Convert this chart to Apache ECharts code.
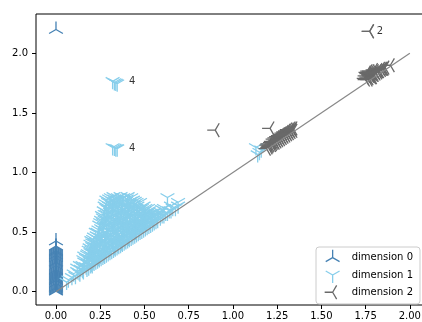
<!DOCTYPE html>
<html>
<head>
<meta charset="utf-8">
<script src="https://cdn.jsdelivr.net/npm/echarts@6/dist/echarts.min.js"></script>
<style>html,body{margin:0;padding:0;background:#fff}#c{width:422px;height:322px}</style>
</head>
<body>
<div id="c"></div>
<script>
// ---- data ----
const seriesNames = ['dimension 0', 'dimension 1', 'dimension 2'];
const xTicks = [0, 0.25, 0.5, 0.75, 1, 1.25, 1.5, 1.75, 2];
const yTicks = [0, 0.5, 1, 1.5, 2];
const diagonal = [[0, 0], [2, 2]];

const dim0Points = [
  [0,0.004],[0,0.012],[0,0.02],[0,0.027],[0,0.035],[0,0.041],[0,0.05],[0,0.058],[0,0.066],[0,0.072],
  [0,0.081],[0,0.09],[0,0.097],[0,0.105],[0,0.113],[0,0.12],[0,0.128],[0,0.136],[0,0.143],[0,0.151],
  [0,0.16],[0,0.168],[0,0.175],[0,0.183],[0,0.19],[0,0.198],[0,0.207],[0,0.215],[0,0.222],[0,0.23],
  [0,0.238],[0,0.246],[0,0.253],[0,0.261],[0,0.27],[0,0.278],[0,0.285],[0,0.293],[0,0.301],[0,0.309],
  [0,0.318],[0,0.326],[0,0.334],[0,0.342],[0,0.35],[0,0.358],[0,0.366],[0,0.375],[0,0.382],[0,0.425],
  [0,2.2]
];

const dim1Points = [
  [0.06,0.08],[0.07,0.1],[0.09,0.12],[0.1,0.15],[0.11,0.13],[0.12,0.17],[0.12,0.2],[0.13,0.16],
  [0.14,0.19],[0.15,0.22],[0.15,0.18],[0.16,0.25],[0.16,0.3],[0.17,0.21],[0.17,0.28],[0.18,0.24],
  [0.18,0.32],[0.19,0.26],[0.19,0.37],[0.2,0.23],[0.2,0.3],[0.2,0.35],[0.2,0.43],
  [0.21,0.25],[0.21,0.33],[0.21,0.44],[0.22,0.27],[0.22,0.38],[0.23,0.3],[0.23,0.47],[0.24,0.28],
  [0.24,0.35],[0.24,0.52],[0.25,0.3],[0.25,0.42],[0.25,0.58],[0.26,0.33],[0.26,0.48],[0.26,0.64],
  [0.27,0.31],[0.27,0.4],[0.27,0.55],[0.27,0.68],[0.28,0.34],[0.28,0.46],[0.28,0.61],[0.28,0.74],
  [0.29,0.37],[0.29,0.52],[0.29,0.66],[0.3,0.35],[0.3,0.43],[0.3,0.58],[0.3,0.72],[0.3,0.78],
  [0.31,0.36],[0.31,0.5],[0.31,0.63],[0.31,0.79],[0.32,0.4],[0.32,0.55],[0.32,0.7],[0.32,0.76],
  [0.33,0.37],[0.33,0.46],[0.33,0.6],[0.33,0.78],[0.34,0.42],[0.34,0.52],[0.34,0.67],[0.34,0.74],
  [0.35,0.39],[0.35,0.48],[0.35,0.57],[0.35,0.71],[0.35,0.79],[0.36,0.44],[0.36,0.62],[0.36,0.77],
  [0.37,0.41],[0.37,0.5],[0.37,0.68],[0.37,0.75],[0.38,0.45],[0.38,0.56],[0.38,0.65],[0.38,0.79],
  [0.39,0.43],[0.39,0.6],[0.39,0.72],[0.4,0.47],[0.4,0.53],[0.4,0.66],[0.4,0.78],[0.41,0.45],
  [0.41,0.58],[0.41,0.7],[0.42,0.5],[0.42,0.63],[0.42,0.76],[0.43,0.48],[0.43,0.55],[0.43,0.67],
  [0.44,0.52],[0.44,0.6],[0.44,0.73],[0.45,0.5],[0.45,0.57],[0.45,0.66],[0.46,0.54],[0.46,0.62],
  [0.46,0.72],[0.47,0.52],[0.47,0.59],[0.48,0.56],[0.48,0.66],[0.49,0.55],[0.49,0.61],[0.5,0.58],
  [0.5,0.68],[0.51,0.57],[0.51,0.63],[0.52,0.6],[0.52,0.7],[0.53,0.58],[0.54,0.62],[0.55,0.6],
  [0.56,0.64],[0.57,0.62],[0.58,0.66],[0.6,0.64],[0.6,0.69],[0.62,0.66],[0.63,0.79],[0.64,0.68],
  [0.66,0.7],[0.69,0.75],[0.69,0.72],
  [0.135,0.15],[0.135,0.22],[0.155,0.17],[0.155,0.2],[0.155,0.27],[0.175,0.19],[0.175,0.24],[0.175,0.31],
  [0.185,0.2],[0.185,0.28],[0.185,0.35],[0.195,0.22],[0.195,0.33],[0.195,0.4],
  [0.205,0.22],[0.205,0.27],[0.205,0.32],[0.205,0.38],[0.205,0.41],
  [0.215,0.24],[0.215,0.29],[0.215,0.36],[0.215,0.41],[0.215,0.46],
  [0.225,0.25],[0.225,0.32],[0.225,0.42],[0.225,0.5],
  [0.235,0.26],[0.235,0.33],[0.235,0.39],[0.235,0.44],[0.235,0.5],
  [0.245,0.27],[0.245,0.31],[0.245,0.4],[0.245,0.46],[0.245,0.56],
  [0.255,0.28],[0.255,0.36],[0.255,0.45],[0.255,0.53],[0.255,0.6],
  [0.265,0.29],[0.265,0.38],[0.265,0.43],[0.265,0.52],[0.265,0.58],[0.265,0.62],
  [0.275,0.3],[0.275,0.36],[0.275,0.45],[0.275,0.5],[0.275,0.6],[0.275,0.65],[0.275,0.72],
  [0.285,0.31],[0.285,0.4],[0.285,0.49],[0.285,0.55],[0.285,0.65],[0.285,0.7],[0.285,0.77],
  [0.295,0.32],[0.295,0.41],[0.295,0.47],[0.295,0.56],[0.295,0.62],[0.295,0.69],[0.295,0.75],
  [0.305,0.33],[0.305,0.39],[0.305,0.46],[0.305,0.54],[0.305,0.61],[0.305,0.67],[0.305,0.75],
  [0.315,0.34],[0.315,0.43],[0.315,0.47],[0.315,0.58],[0.315,0.66],[0.315,0.73],
  [0.325,0.35],[0.325,0.42],[0.325,0.5],[0.325,0.57],[0.325,0.64],[0.325,0.72],[0.325,0.8],
  [0.335,0.36],[0.335,0.4],[0.335,0.49],[0.335,0.55],[0.335,0.63],[0.335,0.7],[0.335,0.76],
  [0.345,0.37],[0.345,0.45],[0.345,0.5],[0.345,0.6],[0.345,0.65],[0.345,0.77],
  [0.355,0.38],[0.355,0.43],[0.355,0.53],[0.355,0.59],[0.355,0.66],[0.355,0.74],
  [0.365,0.39],[0.365,0.47],[0.365,0.56],[0.365,0.65],[0.365,0.7],[0.365,0.8],
  [0.375,0.4],[0.375,0.46],[0.375,0.53],[0.375,0.6],[0.375,0.72],[0.375,0.78],
  [0.385,0.41],[0.385,0.49],[0.385,0.52],[0.385,0.62],[0.385,0.69],[0.385,0.75],
  [0.395,0.42],[0.395,0.5],[0.395,0.56],[0.395,0.64],[0.395,0.68],[0.395,0.76],
  [0.405,0.43],[0.405,0.49],[0.405,0.56],[0.405,0.62],[0.405,0.72],[0.405,0.8],
  [0.415,0.44],[0.415,0.52],[0.415,0.55],[0.415,0.65],[0.415,0.74],
  [0.425,0.45],[0.425,0.53],[0.425,0.58],[0.425,0.69],[0.425,0.79],
  [0.435,0.46],[0.435,0.51],[0.435,0.6],[0.435,0.64],[0.435,0.71],[0.435,0.77],
  [0.445,0.47],[0.445,0.55],[0.445,0.63],[0.445,0.68],[0.445,0.76],
  [0.455,0.48],[0.455,0.53],[0.455,0.61],[0.455,0.7],[0.455,0.75],
  [0.465,0.49],[0.465,0.57],[0.465,0.64],[0.465,0.68],
  [0.475,0.5],[0.475,0.55],[0.475,0.62],[0.475,0.7],[0.475,0.75],
  [0.485,0.51],[0.485,0.58],[0.485,0.63],[0.485,0.7],
  [0.495,0.52],[0.495,0.56],[0.495,0.64],[0.495,0.72],
  [0.505,0.53],[0.505,0.6],[0.505,0.66],[0.505,0.7],
  [0.515,0.54],[0.515,0.6],[0.515,0.66],[0.525,0.55],[0.525,0.63],[0.525,0.68],
  [0.535,0.56],[0.535,0.61],[0.535,0.66],[0.545,0.57],[0.545,0.64],
  [0.555,0.58],[0.555,0.63],[0.555,0.67],[0.565,0.59],[0.565,0.65],[0.575,0.6],[0.575,0.64],
  [0.59,0.62],[0.59,0.67],[0.61,0.64],[0.61,0.7],[0.63,0.66],[0.65,0.68],[0.65,0.72],[0.675,0.7],
  [1.13,1.21],[1.15,1.17],[1.16,1.19],[1.14,1.15],
  [0.32,1.765],[0.33,1.755],[0.338,1.75],[0.346,1.745],
  [0.32,1.21],[0.33,1.205],[0.338,1.2],[0.346,1.2]
];

const dim2Points = [
  [0.9,1.355],[1.773,2.185],[1.773,2.185],
  [1.19,1.2],[1.195,1.23],[1.2,1.21],[1.2,1.24],[1.205,1.22],[1.21,1.23],[1.21,1.37],[1.215,1.25],
  [1.22,1.23],[1.22,1.26],[1.225,1.24],[1.23,1.25],[1.23,1.28],[1.235,1.26],[1.24,1.25],[1.24,1.29],
  [1.245,1.27],[1.25,1.26],[1.25,1.3],[1.255,1.28],[1.26,1.27],[1.26,1.31],[1.265,1.29],[1.27,1.28],
  [1.27,1.32],[1.275,1.3],[1.28,1.29],[1.28,1.33],[1.285,1.31],[1.29,1.3],[1.29,1.34],[1.295,1.32],
  [1.3,1.31],[1.3,1.35],[1.305,1.33],[1.31,1.32],[1.31,1.36],[1.315,1.34],[1.32,1.33],[1.32,1.36],
  [1.325,1.35],[1.33,1.34],[1.33,1.37],[1.335,1.36],[1.34,1.35],[1.34,1.37],
  [1.745,1.79],[1.75,1.78],[1.75,1.81],[1.755,1.84],[1.76,1.8],[1.76,1.83],[1.765,1.78],[1.765,1.85],
  [1.77,1.79],[1.77,1.82],[1.775,1.81],[1.775,1.85],[1.78,1.81],[1.78,1.84],[1.785,1.8],[1.785,1.83],
  [1.79,1.8],[1.79,1.83],[1.795,1.82],[1.795,1.86],[1.8,1.82],[1.8,1.85],[1.805,1.84],[1.81,1.83],
  [1.815,1.85],[1.82,1.84],[1.82,1.86],[1.825,1.85],[1.83,1.85],[1.835,1.87],[1.84,1.86],[1.845,1.87],
  [1.85,1.87],[1.855,1.87],[1.86,1.88],[1.89,1.9]
];

// annotation text positions (left-middle of text) and text
const annotations = [
  [0.413, 1.762, '4'],
  [0.413, 1.203, '4'],
  [1.813, 2.187, '2']
];

// ---- styling ----
const colors = ['#4682b4', '#87ceeb', '#696969'];
const triUp = 'path://M-1,-1 M1,1 M0,0 L0,-1 M0,0 L-0.866,0.5 M0,0 L0.866,0.5';
const triDown = 'path://M-1,-1 M1,1 M0,0 L0,1 M0,0 L-0.866,-0.5 M0,0 L0.866,-0.5';
const triLeft = 'path://M-1,-1 M1,1 M0,0 L-1,0 M0,0 L0.5,-0.866 M0,0 L0.5,0.866';
const symbols = [triUp, triDown, triLeft];
const allData = [dim0Points, dim1Points, dim2Points];
const font = 'DejaVu Sans';

const chart = echarts.init(document.getElementById('c'), null, {renderer: 'canvas'});

const scatterSeries = seriesNames.map((name, i) => ({
  name: name,
  type: 'scatter',
  data: allData[i],
  symbol: symbols[i],
  symbolSize: 16,
  silent: true,
  z: i === 0 ? 2 : i + 1,
  itemStyle: {color: colors[i], borderColor: colors[i], borderWidth: 1.3, opacity: 1},
  emphasis: {disabled: true}
}));

const option = {
  animation: false,
  backgroundColor: '#fff',
  textStyle: {fontFamily: font},
  grid: {
    left: 36, top: 14, width: 388, height: 291,
    containLabel: false, outerBoundsMode: 'none',
    show: true, borderColor: '#000', borderWidth: 1, backgroundColor: 'transparent'
  },
  xAxis: {
    type: 'value', min: -0.113, max: 2.08,
    splitLine: {show: false},
    axisLine: {show: false, onZero: false},
    axisTick: {show: true, length: 4, inside: false, customValues: xTicks, lineStyle: {color: '#000', width: 1}},
    axisLabel: {customValues: xTicks, margin: 6, color: '#000', fontSize: 10, fontFamily: font,
      formatter: v => v.toFixed(2)}
  },
  yAxis: {
    type: 'value', min: -0.112, max: 2.33,
    splitLine: {show: false},
    axisLine: {show: false, onZero: false},
    axisTick: {show: true, length: 4, inside: false, customValues: yTicks, lineStyle: {color: '#000', width: 1}},
    axisLabel: {customValues: yTicks, margin: 8, color: '#000', fontSize: 10, fontFamily: font,
      formatter: v => v.toFixed(1)}
  },
  legend: {
    orient: 'vertical',
    left: 316, top: 247,
    padding: [2, 7, 3, 8],
    itemWidth: 16, itemHeight: 16, itemGap: 0,
    selectedMode: false,
    backgroundColor: 'rgba(255,255,255,0.8)',
    borderColor: '#cccccc', borderWidth: 1, borderRadius: 3,
    textStyle: {color: '#000', fontSize: 10, fontFamily: font, padding: [0, 0, 0, 6]},
    data: seriesNames.map((n, i) => ({
      name: n, icon: symbols[i],
      itemStyle: {color: colors[i], borderColor: colors[i], borderWidth: 1.3}
    }))
  },
  series: [
    ...scatterSeries,
    {
      type: 'line', data: diagonal, symbol: 'none', silent: true, z: 6,
      lineStyle: {color: '#888888', width: 1.2}
    },
    {
      type: 'scatter', silent: true, z: 7,
      data: annotations.map(a => ({value: [a[0], a[1]], label: {formatter: a[2]}})),
      symbolSize: 0,
      label: {show: true, position: 'right', distance: 0, color: '#000', fontSize: 10, fontFamily: font}
    }
  ]
};
chart.setOption(option);
</script>
</body>
</html>
